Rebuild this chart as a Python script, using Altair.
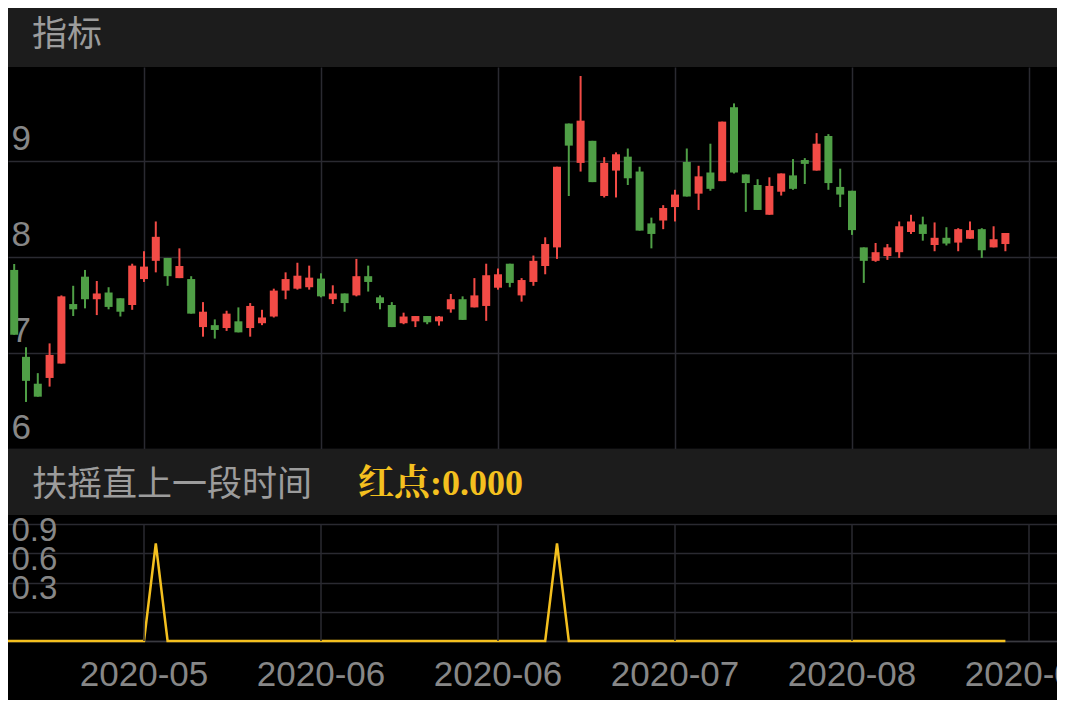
import altair as alt
import pandas as pd

# ---------------- data ----------------
opens = [7.79, 7.865, 6.96, 6.68, 6.74, 6.89, 7.51, 7.795, 7.56, 7.63,
         7.57, 7.50, 7.77, 7.96, 7.99, 7.78, 7.77, 7.27, 7.29, 7.26,
         7.33, 7.26, 7.31, 7.38, 7.65, 7.67, 7.685, 7.775, 7.56, 7.62,
         7.60, 7.80, 7.58, 7.50, 7.31, 7.33, 7.385, 7.33, 7.455, 7.56,
         7.475, 7.49, 7.68, 7.93, 7.60, 7.74, 7.906, 8.10, 9.39, 8.98,
         9.21, 8.635, 8.90, 9.045, 8.89, 8.35, 8.38, 8.52, 8.99, 8.66,
         8.88, 8.79, 9.56, 8.86, 8.75, 8.44, 8.68, 8.85, 9.01, 8.90,
         9.26, 8.73, 8.69, 8.10, 7.96, 8.01, 8.05, 8.26, 8.34, 8.125,
         8.20, 8.15, 8.19, 8.29, 8.10, 8.135]
closes = [8.01, 7.19, 6.71, 6.545, 6.98, 7.59, 7.455, 7.56, 7.62, 7.48,
          7.43, 7.91, 7.90, 8.21, 7.80, 7.906, 7.41, 7.43, 7.24, 7.41,
          7.215, 7.49, 7.37, 7.65, 7.77, 7.805, 7.785, 7.59, 7.62, 7.52,
          7.80, 7.74, 7.52, 7.27, 7.38, 7.385, 7.32, 7.38, 7.56, 7.345,
          7.60, 7.81, 7.82, 7.73, 7.76, 7.96, 8.135, 8.94, 9.16, 9.42,
          8.78, 8.98, 9.07, 8.82, 8.275, 8.24, 8.51, 8.65, 8.63, 8.84,
          8.71, 9.41, 8.88, 8.77, 8.49, 8.74, 8.87, 8.71, 8.97, 9.18,
          8.77, 8.65, 8.28, 7.96, 8.05, 8.10, 8.32, 8.37, 8.24, 8.20,
          8.14, 8.29, 8.28, 8.07, 8.185, 8.25]
highs = [8.01, 7.927, 7.06, 6.79, 7.10, 7.60, 7.70, 7.865, 7.75, 7.685,
         7.57, 7.93, 8.06, 8.37, 7.99, 8.09, 7.80, 7.53, 7.35, 7.44,
         7.475, 7.52, 7.45, 7.67, 7.84, 7.94, 7.91, 7.83, 7.705, 7.62,
         7.98, 7.91, 7.60, 7.53, 7.42, 7.385, 7.385, 7.385, 7.615, 7.59,
         7.78, 7.93, 7.88, 7.93, 7.78, 8.015, 8.205, 8.94, 9.39, 9.885,
         9.21, 9.04, 9.09, 9.13, 8.94, 8.41, 8.54, 8.70, 9.13, 8.95,
         9.18, 9.41, 9.60, 8.86, 8.81, 8.83, 8.87, 9.02, 9.03, 9.29,
         9.28, 8.92, 8.69, 8.10, 8.146, 8.135, 8.37, 8.44, 8.42, 8.36,
         8.31, 8.30, 8.37, 8.30, 8.32, 8.25]
lows = [7.79, 7.19, 6.49, 6.545, 6.65, 6.89, 7.385, 7.465, 7.395, 7.455,
        7.38, 7.45, 7.74, 7.84, 7.70, 7.78, 7.41, 7.17, 7.15, 7.23,
        7.215, 7.17, 7.29, 7.37, 7.56, 7.66, 7.66, 7.58, 7.51, 7.43,
        7.59, 7.64, 7.455, 7.27, 7.30, 7.27, 7.30, 7.285, 7.42, 7.345,
        7.475, 7.335, 7.66, 7.685, 7.535, 7.70, 7.82, 7.98, 8.635, 8.89,
        8.78, 8.62, 8.62, 8.75, 8.275, 8.09, 8.29, 8.37, 8.63, 8.49,
        8.69, 8.79, 8.87, 8.47, 8.49, 8.44, 8.64, 8.70, 8.76, 8.90,
        8.70, 8.52, 8.23, 7.73, 7.95, 7.97, 7.99, 8.24, 8.17, 8.06,
        8.12, 8.06, 8.19, 7.99, 8.10, 8.06]
signal = [0, 0, 0, 0, 0, 0, 0, 0, 0, 0,
          0, 0, 0, 1, 0, 0, 0, 0, 0, 0,
          0, 0, 0, 0, 0, 0, 0, 0, 0, 0,
          0, 0, 0, 0, 0, 0, 0, 0, 0, 0,
          0, 0, 0, 0, 0, 0, 0, 1, 0, 0,
          0, 0, 0, 0, 0, 0, 0, 0, 0, 0,
          0, 0, 0, 0, 0, 0, 0, 0, 0, 0,
          0, 0, 0, 0, 0, 0, 0, 0, 0, 0,
          0, 0, 0, 0, 0, 0]
tick_pos = [12, 27, 42, 57, 72, 87]
tick_labels = ["2020-05", "2020-06", "2020-06", "2020-07", "2020-08", "2020-09"]
price_ticks = [6, 7, 8, 9]
signal_ticks = [0, 0.3, 0.6, 0.9, 1.2]
title_main = "指标"
title_sub = "扶摇直上一段时间"
title_value = "红点:0.000"

# ---------------- styling ----------------
W = 1049
BG = "#000000"
HEADER = "#1c1c1c"
GRID = "#2a2a31"
LABEL = "#878787"
TITLE = "#9c9c9c"
RED = "#f24b46"
GREEN = "#4f9f46"
YELLOW = "#f4c01f"
SANS = "Liberation Sans"
CJK = "Noto Sans CJK SC"

n = len(opens)
df = pd.DataFrame({
    "i": list(range(n)),
    "open": opens, "close": closes, "high": highs, "low": lows,
    "sig": signal,
})
df["dir"] = ["up" if c >= o else "down" for o, c in zip(opens, closes)]
ticks_df = pd.DataFrame({"pos": tick_pos, "label": tick_labels})

x_dom = [0.4746, 89.373]
x_scale = alt.Scale(domain=x_dom, nice=False, zero=False, padding=0)
color = alt.Color("dir:N", scale=alt.Scale(domain=["up", "down"], range=[RED, GREEN]), legend=None)

# ---------------- header 1 ----------------
header1 = alt.Chart(pd.DataFrame({"t": [title_main]})).mark_text(
    align="left", baseline="alphabetic", font=CJK, fontSize=35, color=TITLE
).encode(
    x=alt.value(24), y=alt.value(38), text="t:N"
).properties(width=W, height=59, view=alt.ViewBackground(fill=HEADER, strokeWidth=0))

# ---------------- candlesticks ----------------
base = alt.Chart(df)
x_enc = alt.X("i:Q", scale=x_scale,
              axis=alt.Axis(values=tick_pos, grid=True, gridColor=GRID, gridWidth=1.5,
                            labels=False, ticks=False, tickSize=0, domain=False, title=None))
y_enc = alt.Y("low:Q", scale=alt.Scale(domain=[6.0, 9.979], nice=False, zero=False, padding=0),
              axis=alt.Axis(values=price_ticks, format="d", grid=True, gridColor=GRID,
                            gridWidth=1.5, ticks=False, tickSize=0, domain=False,
                            labelAlign="left", labelBaseline="alphabetic", labelOverlap=False,
                            labelPadding=-3, labelOffset=-11, labelFontSize=35,
                            labelColor=LABEL, labelFont=SANS, title=None))
wicks = base.mark_rule(strokeWidth=2, clip=True).encode(
    x=x_enc, y=y_enc, y2="high:Q", color=color)
bodies = base.mark_bar(size=8, clip=True).encode(
    x="i:Q", y="open:Q", y2="close:Q", color=color)
candles = alt.layer(wicks, bodies).properties(
    width=W, height=382, view=alt.ViewBackground(fill=BG, strokeWidth=0))

# ---------------- header 2 ----------------
h2_df = pd.DataFrame({"a": [title_sub], "b": [title_value]})
h2a = alt.Chart(h2_df).mark_text(
    align="left", baseline="alphabetic", font=CJK, fontSize=35, color=TITLE
).encode(x=alt.value(24), y=alt.value(46.5), text="a:N")
h2b = alt.Chart(h2_df).mark_text(
    align="left", baseline="alphabetic", font="Liberation Serif, Noto Serif CJK SC, Noto Sans CJK SC",
    fontWeight="bold", fontSize=36, color=YELLOW
).encode(x=alt.value(350), y=alt.value(45.5), text="b:N")
header2 = alt.layer(h2a, h2b).properties(
    width=W, height=66, view=alt.ViewBackground(fill=HEADER, strokeWidth=0))

# ---------------- signal panel ----------------
sig_y = alt.Y("sig:Q", scale=alt.Scale(domain=[-0.6051, 1.2923], nice=False, zero=False, padding=0),
              axis=alt.Axis(values=signal_ticks, grid=True, gridColor=GRID, gridWidth=1.5,
                            ticks=False, tickSize=0, domain=False, labelOverlap=False,
                            labelExpr="(datum.value > 0.1 && datum.value < 1) ? format(datum.value, '.1f') : ''",
                            labelAlign="left", labelBaseline="alphabetic",
                            labelPadding=-3, labelOffset=-13, labelFontSize=33,
                            labelColor=LABEL, labelFont=SANS, title=None))
sig_x = alt.X("i:Q", scale=x_scale,
              axis=alt.Axis(values=tick_pos, grid=False, labels=False, ticks=False, tickSize=0,
                            domain=True, domainColor="#3a3a40", domainWidth=1.5,
                            offset=-59, title=None))
vgrid = alt.Chart(ticks_df).mark_rule(color=GRID, strokeWidth=1.5, clip=True).encode(
    x=alt.X("pos:Q", scale=x_scale), y=alt.datum(0), y2=alt.datum(1.2))
line = alt.Chart(df).mark_line(color=YELLOW, strokeWidth=2.5, clip=True).encode(
    x=sig_x, y=sig_y)
xlabels = alt.Chart(ticks_df).mark_text(
    align="center", baseline="alphabetic", font=SANS, fontSize=35, color=LABEL, clip=True
).encode(x=alt.X("pos:Q", scale=x_scale), y=alt.datum(-0.4615), text="label:N")
lower = alt.layer(line, vgrid, xlabels).properties(
    width=W, height=185, view=alt.ViewBackground(fill=BG, strokeWidth=0))

chart = alt.vconcat(header1, candles, header2, lower, spacing=0, bounds="flush").properties(
    padding=0, background=BG
).configure_view(strokeWidth=0)

chart.save("out.html", embed_options={"renderer": "svg", "actions": False})
